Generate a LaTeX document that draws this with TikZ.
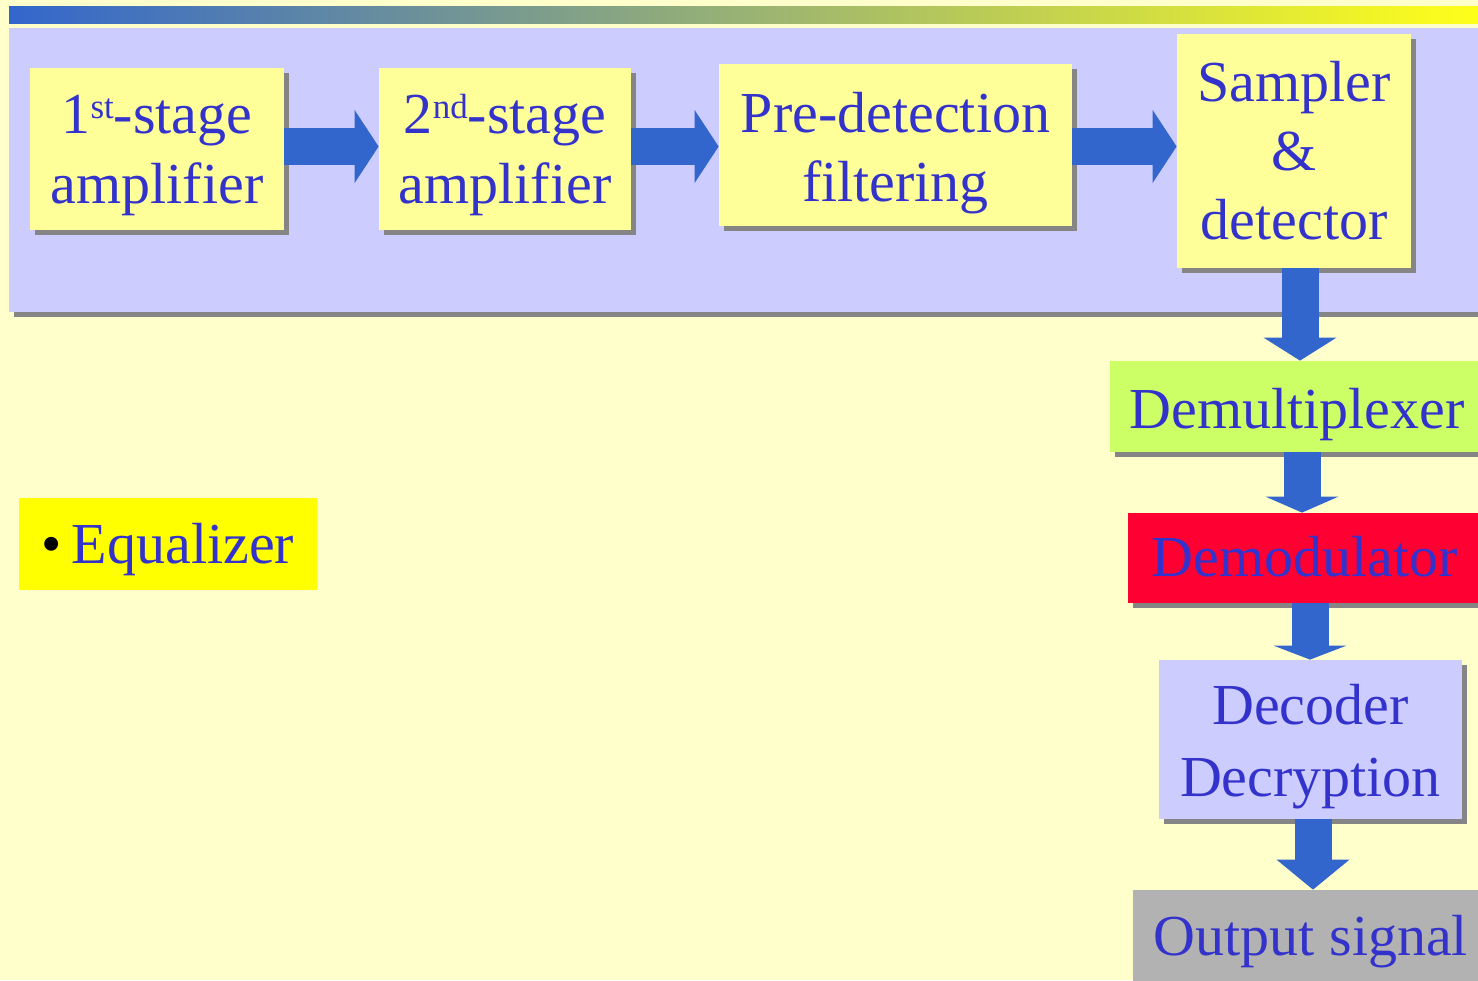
\documentclass[tikz,border=0pt]{standalone}
\usepackage{fontspec}
\setmainfont{Liberation Serif}
\usetikzlibrary{arrows.meta,shadows}
\definecolor{bgyellow}{HTML}{FFFFCC}
\definecolor{panel}{HTML}{CCCCFF}
\definecolor{boxyellow}{HTML}{FFFF99}
\definecolor{txtblue}{HTML}{3333CC}
\definecolor{arrowblue}{HTML}{3366CC}
\definecolor{gradmid}{HTML}{96A89E}
\definecolor{gradright}{HTML}{FFFF1A}
\definecolor{demuxgreen}{HTML}{CCFF66}
\definecolor{demodred}{HTML}{FF0033}
\definecolor{outgray}{HTML}{B2B2B2}
\definecolor{shadowgray}{HTML}{858585}
\definecolor{eqyellow}{HTML}{FFFF00}
% #1 raise, #2 line spacing, #3 lines
\newcommand\boxtext[3]{\raisebox{#1}[\height][\depth]{\fontsize{29}{#2}\selectfont\begin{tabular}{@{}c@{}}#3\end{tabular}}}
\newcommand\ordsup[1]{\raisebox{7.5pt}{\fontsize{17.5}{17.5}\selectfont #1}}
\begin{document}
\begin{tikzpicture}[x=0.5pt,y=-0.5pt,
  blk/.style={rectangle, inner sep=0pt, text=txtblue},
  shad/.style={drop shadow={shadow xshift=2.5pt, shadow yshift=-2.5pt, fill=shadowgray, opacity=1}},
  blockarrow/.style={draw=arrowblue, line width=18.5pt,
    -{Triangle[length=#1, width=36.5pt, line width=0pt, fill=arrowblue]}}
]
\useasboundingbox (0,0) rectangle (1478,980);
\fill[bgyellow] (0,0) rectangle (1478,980);
% top gradient bar
\shade[left color=arrowblue, middle color=gradmid, right color=gradright] (9,6) rectangle (1478,23);
% panel
\fill[panel, shad] (9,28) rectangle (1495,312);
% nodes
\node[blk, fill=boxyellow, shad, minimum width=127pt, minimum height=81pt] (b1) at (157,149)
  {\boxtext{-2.5pt}{35pt}{1\ordsup{st}-stage\\amplifier}};
\node[blk, fill=boxyellow, shad, minimum width=126pt, minimum height=81pt] (b2) at (505,149)
  {\boxtext{-2.5pt}{35pt}{2\ordsup{nd}-stage\\amplifier}};
\node[blk, fill=boxyellow, shad, minimum width=176.5pt, minimum height=81pt] (b3) at (895.5,145)
  {\boxtext{-3.85pt}{34.5pt}{Pre-detection\\filtering}};
\node[blk, fill=boxyellow, shad, minimum width=117pt, minimum height=117pt] (b4) at (1294,151)
  {\boxtext{-2.6pt}{34.5pt}{Sampler\\\&\\detector}};
\node[blk, fill=demuxgreen, shad, minimum width=187pt, minimum height=45.5pt] (demux) at (1297,406.5)
  {\boxtext{-3.85pt}{34.5pt}{Demultiplexer}};
\node[blk, fill=demodred, shad, minimum width=177pt, minimum height=45pt] (demod) at (1305,558)
  {\boxtext{-2.1pt}{34.5pt}{Demodulator}};
\node[blk, fill=panel, shad, minimum width=151.5pt, minimum height=79.5pt] (dec) at (1310.5,739.5)
  {\boxtext{-3.05pt}{36pt}{Decoder\\Decryption}};
\node[blk, fill=outgray, minimum width=178pt, minimum height=46pt] (out) at (1311,936)
  {\boxtext{-2.6pt}{34.5pt}{Output signal}};
\node[blk, fill=eqyellow, minimum width=149pt, minimum height=46pt] (eq) at (168,544)
  {\boxtext{-2.6pt}{34.5pt}{{\color{black}\textbullet}\,Equalizer}};
% helper coordinates
\coordinate (ay) at (0,146.5);
\coordinate (cx1) at (1300,0);
\coordinate (cx2) at (1302,0);
\coordinate (cx3) at (1310,0);
\coordinate (cx4) at (1313,0);
% arrows
\draw[blockarrow=12pt] (b1.east |- ay) -- (b2.west |- ay);
\draw[blockarrow=12pt] (b2.east |- ay) -- (b3.west |- ay);
\draw[blockarrow=12pt] (b3.east |- ay) -- (b4.west |- ay);
\draw[blockarrow=11.5pt] (b4.south -| cx1) -- (demux.north -| cx1);
\draw[blockarrow=8pt] (demux.south -| cx2) -- (demod.north -| cx2);
\draw[blockarrow=7pt] (demod.south -| cx3) -- (dec.north -| cx3);
\draw[blockarrow=15pt] (dec.south -| cx4) -- (out.north -| cx4);
\end{tikzpicture}
\end{document}
